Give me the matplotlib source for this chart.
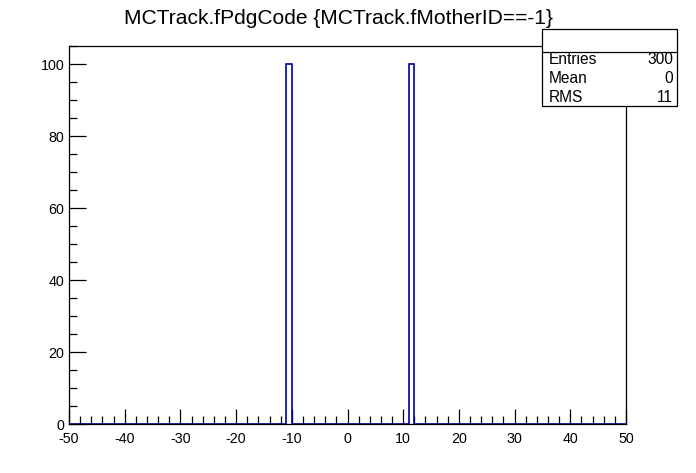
import numpy as np
import matplotlib
matplotlib.use("Agg")
import matplotlib.pyplot as plt
from matplotlib.patches import Rectangle
from matplotlib.ticker import MultipleLocator

plt.rcParams['font.family'] = ['Liberation Sans', 'DejaVu Sans']
plt.rcParams['axes.unicode_minus'] = False

# histogram content (pdg code -> entries)
pdg_codes = [-11, 11]
pdg_counts = [100, 100]
bin_edges = np.arange(-50, 51, 1)

stats_names = ['Entries', 'Mean', 'RMS']
stats_values = ['300', '0', '11']

W, H = 696, 473
fig = plt.figure(figsize=(W / 100, H / 100), dpi=100)
ax = fig.add_axes([69 / W, (H - 424) / H, 557 / W, 378 / H])

ax.hist(pdg_codes, bins=bin_edges, weights=pdg_counts, histtype='step',
        color='#0000a0', linewidth=1.2)

ax.set_xlim(-50, 50)
ax.set_ylim(0, 105)
ax.xaxis.set_major_locator(MultipleLocator(10))
ax.xaxis.set_minor_locator(MultipleLocator(2))
ax.yaxis.set_major_locator(MultipleLocator(20))
ax.yaxis.set_minor_locator(MultipleLocator(5))
ax.tick_params(which='both', direction='in', top=False, right=False,
               labelsize=10.3, width=0.9, color='black')
ax.tick_params(axis='x', which='major', length=11, pad=5.5)
ax.tick_params(axis='x', which='minor', length=5.5)
ax.tick_params(axis='y', which='major', length=12, pad=3.5)
ax.tick_params(axis='y', which='minor', length=6)
for sp in ax.spines.values():
    sp.set_linewidth(0.9)

fig.text(338 / W, 1 - 18 / H, 'MCTrack.fPdgCode {MCTrack.fMotherID==-1}',
         ha='center', va='center', fontsize=15.1)

# stats box
bx0, by0, bx1, by1 = 542, 29, 677, 106
fig.patches.append(Rectangle((bx0 / W, 1 - by1 / H), (bx1 - bx0) / W, (by1 - by0) / H,
                             transform=fig.transFigure, facecolor='white',
                             edgecolor='black', linewidth=0.9, zorder=5))
fig.add_artist(plt.Line2D([bx0 / W, bx1 / W], [1 - 52 / H, 1 - 52 / H],
                          transform=fig.transFigure, color='black', linewidth=0.9, zorder=6))
for i, (n, v) in enumerate(zip(stats_names, stats_values)):
    y = 1 - (60 + i * 18.5) / H
    fig.text(549 / W, y, n, ha='left', va='center', fontsize=11.2, zorder=7)
    fig.text(673 / W, y, v, ha='right', va='center', fontsize=11.2, zorder=7)

fig.savefig('out.png', dpi=100)
